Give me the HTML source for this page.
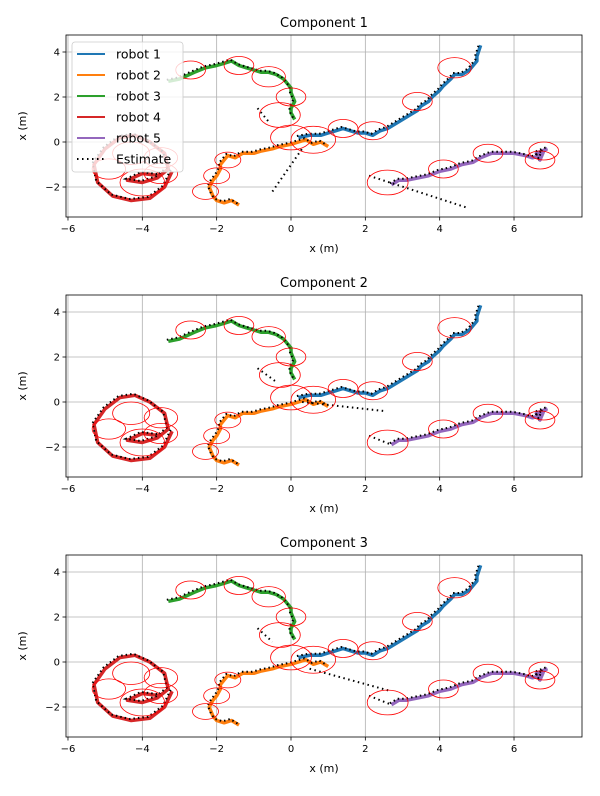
<!DOCTYPE html>
<html><head><meta charset="utf-8"><style>
body{margin:0;background:#fff;}
svg{display:block;font-family:"DejaVu Sans","Liberation Sans",sans-serif;}
</style></head><body>
<svg id="fig" width="600" height="796" viewBox="0 0 600 796"></svg>
<script>
const xTicks=[-6,-4,-2,0,2,4,6];
const yTicks=[-2,0,2,4];
const titles=["Component 1","Component 2","Component 3"];
const robotNames=["robot 1","robot 2","robot 3","robot 4","robot 5"];
const robotColors=["#1f77b4","#ff7f0e","#2ca02c","#d62728","#9467bd"];
const r1x=[0.2,0.5,0.8,1.0,1.2,1.4,1.6,1.8,2.0,2.2,2.4,2.6,2.8,3.0,3.2,3.4,3.5,3.7,3.8,4.0,4.1,4.3,4.4,4.6,4.7,4.8,4.9,5.0,5.0,5.1];
const r1y=[0.2,0.3,0.3,0.4,0.5,0.6,0.5,0.4,0.4,0.3,0.5,0.6,0.8,1.0,1.2,1.4,1.6,1.8,2.0,2.3,2.5,2.8,3.0,3.0,3.1,3.2,3.4,3.6,3.8,4.3];
const r2x=[-1.4,-1.6,-1.8,-2.0,-2.1,-2.2,-2.1,-2.0,-1.9,-1.9,-1.7,-1.5,-1.3,-1.0,-0.8,-0.5,-0.3,0.0,0.2,0.4,0.6,0.8,1.0];
const r2y=[-2.8,-2.6,-2.7,-2.6,-2.4,-2.0,-1.7,-1.5,-1.2,-1.0,-0.6,-0.7,-0.5,-0.5,-0.4,-0.3,-0.2,-0.1,0.0,0.1,-0.1,0.0,-0.2];
const r3x=[-3.3,-3.0,-2.6,-2.3,-2.0,-1.8,-1.6,-1.4,-1.2,-1.0,-0.8,-0.6,-0.4,-0.2,-0.1,0.0,0.0,0.1,0.0,0.0,0.1];
const r3y=[2.7,2.8,3.1,3.3,3.4,3.5,3.6,3.4,3.3,3.2,3.1,3.1,3.0,2.8,2.6,2.4,2.2,1.8,1.5,1.3,1.0];
const r4x=[-3.2,-3.4,-3.8,-4.3,-4.8,-5.2,-5.3,-5.0,-4.6,-4.2,-3.8,-3.4,-3.3,-3.6,-4.0,-4.4,-4.0,-3.5];
const r4y=[-1.3,-2.0,-2.5,-2.6,-2.4,-1.8,-1.0,-0.3,0.2,0.3,0.0,-0.5,-1.2,-1.6,-1.8,-1.7,-1.4,-1.5];
const r5x=[2.7,2.9,3.1,3.4,3.7,4.0,4.3,4.6,4.9,5.1,5.4,5.7,6.0,6.3,6.5,6.7,6.8,6.7,6.6,6.9];
const r5y=[-1.9,-1.7,-1.7,-1.6,-1.5,-1.3,-1.2,-1.0,-0.9,-0.7,-0.5,-0.5,-0.5,-0.6,-0.7,-0.6,-0.4,-0.8,-0.5,-0.3];
const circX=[-2.7,-1.4,-0.6,0.0,-0.3,0.0,0.6,1.4,2.2,3.4,4.4,-1.7,-2.0,-2.3,2.6,4.1,5.3,6.8,6.7,-4.0,-3.5,-4.9,-3.5,-4.3];
const circY=[3.2,3.4,2.9,2.0,1.2,0.2,0.1,0.6,0.5,1.8,3.3,-0.8,-1.5,-2.2,-1.8,-1.2,-0.5,-0.4,-0.8,-1.8,-1.4,-1.2,-0.7,-0.5];
const circR=[0.4,0.4,0.45,0.4,0.55,0.55,0.6,0.4,0.4,0.4,0.45,0.35,0.35,0.35,0.55,0.4,0.4,0.4,0.4,0.6,0.45,0.45,0.45,0.5];
const strayX=[[-0.5,0.3,-0.9,-0.6],[0.3,2.5,-0.9,-0.4],[0.5,2.7,-0.9,-0.5]];
const strayY=[[-2.2,-0.3,1.5,0.9],[0.0,-0.4,1.5,0.9],[-0.3,-1.3,1.5,0.9]];
const stray2X=[[2.1,4.7],[2.1,2.7],[2.1,2.7]];
const stray2Y=[[-1.5,-2.9],[-1.5,-1.9],[-1.5,-1.9]];

const NS="http://www.w3.org/2000/svg";
const fig=document.getElementById('fig');
function mk(tag,attrs,parent){const e=document.createElementNS(NS,tag);for(const k in attrs)e.setAttribute(k,attrs[k]);(parent||fig).appendChild(e);return e;}
const L=66,R=582,x0=291,sx=37.17,sy=22.5;
function X(v){return x0+v*sx;}
const robots=[[r1x,r1y],[r2x,r2y],[r3x,r3y],[r4x,r4y],[r5x,r5y]];

titles.forEach((t,i)=>{
  const top=35+260*i,bot=top+182,y0=142+260*i;
  const Y=v=>y0-v*sy;
  const g=mk('g',{});
  
  
  const clipId='c'+i;
  const cp=mk('clipPath',{id:clipId},g);mk('rect',{x:L,y:top,width:R-L,height:182},cp);
  xTicks.forEach(v=>{
    const l=mk('line',{x1:X(v),x2:X(v),y1:top,y2:bot,stroke:'#b0b0b0','stroke-width':0.8},g);
    
    mk('line',{x1:X(v),x2:X(v),y1:bot,y2:bot+3.5,stroke:'#000','stroke-width':0.8},g);
    const tx=mk('text',{x:X(v),y:bot+15,'font-size':10,'text-anchor':'middle'},g);tx.textContent=(v<0?'\u2212'+(-v):v);
    
  });
  yTicks.forEach(v=>{
    const l=mk('line',{x1:L,x2:R,y1:Y(v),y2:Y(v),stroke:'#b0b0b0','stroke-width':0.8},g);
    
    mk('line',{x1:L-3.5,x2:L,y1:Y(v),y2:Y(v),stroke:'#000','stroke-width':0.8},g);
    const tx=mk('text',{x:L-6,y:Y(v)+3.5,'font-size':10,'text-anchor':'end'},g);tx.textContent=(v<0?'\u2212'+(-v):v);
    
  });
  const pg=mk('g',{'clip-path':'url(#'+clipId+')'},g);
  robots.forEach((r,k)=>{
    const d=r[0].map((v,j)=>(j?'L':'M')+X(v).toFixed(1)+','+Y(r[1][j]).toFixed(1)).join('');
    const p=mk('path',{d:d,fill:'none',stroke:robotColors[k],'stroke-width':3.5,'stroke-linejoin':'round'},pg);
    
    const e=mk('path',{d:d,fill:'none',stroke:'#000','stroke-width':2,'stroke-dasharray':'1.5,3',transform:'translate(-1.5,-1.5)'},pg);
    
  });
  [[strayX[i],strayY[i]],[stray2X[i],stray2Y[i]]].forEach(s=>{
    for(let j=0;j+1<s[0].length;j+=2){
      const e=mk('line',{x1:X(s[0][j]),y1:Y(s[1][j]),x2:X(s[0][j+1]),y2:Y(s[1][j+1]),stroke:'#000','stroke-width':2,'stroke-dasharray':'1.5,3.5'},pg);
      
    }
  });
  circX.forEach((v,j)=>{
    const c=mk('ellipse',{cx:X(v),cy:Y(circY[j]),rx:circR[j]*sx,ry:circR[j]*sy,fill:'none',stroke:'#f00','stroke-width':0.8},pg);
    
  });
  mk('rect',{x:L,y:top,width:R-L,height:182,fill:'none',stroke:'#000','stroke-width':0.8},g);
  const ti=mk('text',{x:(L+R)/2,y:top-8,'font-size':13,'text-anchor':'middle'},g);ti.textContent=t;
  
  const xl=mk('text',{x:(L+R)/2,y:bot+35,'font-size':11,'text-anchor':'middle'},g);xl.textContent='x (m)';
  
  const yl=mk('text',{x:0,y:0,'font-size':11,'text-anchor':'middle',transform:'translate(26,'+(top+91)+') rotate(-90)'},g);yl.textContent='x (m)';
  
  if(i===0){
    const lg=mk('g',{});
    
    mk('rect',{x:72,y:42,width:111,height:130,rx:3,fill:'#fff','fill-opacity':0.8,stroke:'#ccc','stroke-width':0.8},lg);
    const names=robotNames.concat(['Estimate']);
    names.forEach((n,k)=>{
      const yy=54+21*k;
      const ln=mk('line',{x1:77,x2:105,y1:yy,y2:yy,stroke:k<5?robotColors[k]:'#000','stroke-width':2,'stroke-dasharray':k<5?'none':'1.5,3.5'},lg);
      
      const tx=mk('text',{x:116,y:yy+4.5,'font-size':12.5},lg);tx.textContent=n;
      
    });
  }
});
</script>
</body></html>
